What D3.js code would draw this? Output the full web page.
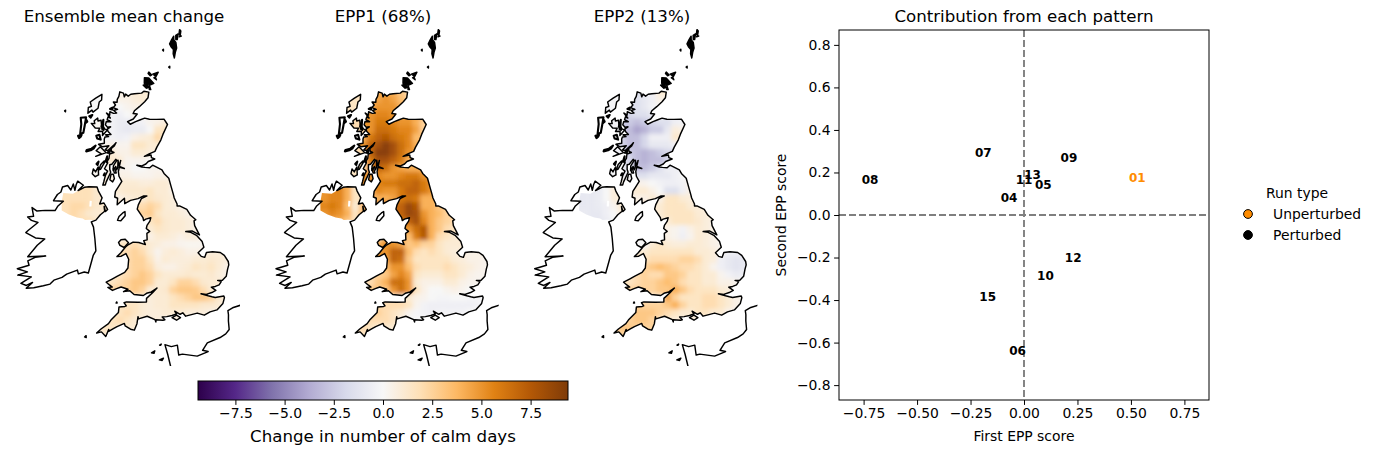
<!DOCTYPE html>
<html><head><meta charset="utf-8">
<style>html,body{margin:0;padding:0;background:#fff}text{font-family:"DejaVu Sans",sans-serif;fill:#000}</style>
<script src="https://cdn.jsdelivr.net/npm/d3@7"></script></head>
<body><svg id="c" width="1376" height="454"></svg>
<script>
// ---------- text ----------
const mapTitles=["Ensemble mean change","EPP1 (68%)","EPP2 (13%)"];
const scatterTitle="Contribution from each pattern";
const colorbarLabel="Change in number of calm days";
const xTicks=[-0.75,-0.5,-0.25,0,0.25,0.5,0.75];
const yTicks=[-0.8,-0.6,-0.4,-0.2,0,0.2,0.4,0.6,0.8];
const cbTicks=[-7.5,-5,-2.5,0,2.5,5,7.5];
// ---------- scatter ----------
const runIds=["01","04","05","06","07","08","09","10","11","12","13","15"];
const firstScore=[0.53,-0.07,0.09,-0.03,-0.19,-0.72,0.21,0.10,0.0,0.23,0.04,-0.17];
const secondScore=[0.175,0.08,0.145,-0.64,0.295,0.165,0.27,-0.285,0.165,-0.20,0.19,-0.385];
const runType=["Unperturbed","Perturbed","Perturbed","Perturbed","Perturbed","Perturbed","Perturbed","Perturbed","Perturbed","Perturbed","Perturbed","Perturbed"];
const legendTypes=["Unperturbed","Perturbed"];
const legendColors=["#ff8c00","#000000"];
// ---------- colour map (PuOr reversed) ----------
const cmapStops=["#2d004b","#542788","#8073ac","#b2abd2","#d8daeb","#f7f7f7","#fee0b6","#fdb863","#e08214","#b35806","#7f3b08"];
const cmapLimit=9.4;
// ---------- gridded change values, 30 km cells; one row per northing, north first ----------
const gbRowStart=[7,7,6,6,6,6,5,5,5,5,5,6,7,6,6,10,10,10,11,11,7,8,8,8,6,5,8,10,8,7,6,4,4];
const niRowStart=[0,0,0,2];
const ensembleGB=[
[.5,.8,1,1,1],[.5,.5,.8,1,.8],[0,0,.3,.5,.5],[-.3,-.5,0,.3],
[-.3,-.8,-.8,-.5,-.3,.3,.5,.8],[-.3,-.8,-1,-.8,-.8,0,1.5,1.5],[0,-.3,-.5,-.3,.5,.8,1,2.2,1],[.3,.5,.3,.3,1.5,1.5,1,1],
[1,1,.5,.5,1,1,.8],[.5,1.2,1,.3,.3,.3,0],[0,.5,.3,.3,0,0,.3,.3],[.5,.5,.5,.3,.3,.3,.5,.5],
[1,1,1,.8,.8,1,1,.5],[1,1,1.2,1.2,1.2,1.5,1,1,.5],[.5,.5,.8,1,1,1.5,1.2,1,.8],
[2,2.5,2,1,.8,.5],[2.5,2.8,1.5,1,1,.8,.5],[1.2,1.5,2,1.2,1,1,.8,.5],[1,1.5,1.2,1,1,.8,.5],[.5,1,1,.8,.5,.8,.8,.3],
[1.5,1.5,2,1.5,1,.8,.5,.5,.3,.2,.2,.3],[2,2.5,2,1,.3,.8,1,.8,.5,.5,.5,.8,.8],[2,2.5,2.5,1.5,.5,1,.8,.8,.8,1,1,1.2,1,.8],
[2,2.5,2.5,2,.8,.5,.5,.8,1,1.5,1.2,1.5,1,.5],[1,1.5,2,2.5,3,2.5,1.5,1,1,1,1.2,1,1,1.2,.8,.5],
[1,1.5,2,2.5,3,3,2.5,1,1,1.5,2.5,2.5,2,1.2,1,1,.5],[2.5,3,2.5,1,1,1.2,2.5,3,3,2.8,2,1,.8],[1,.8,1,1,1.5,2,2.5,3,3,2.5,1.2,.8],
[1.5,1.5,1,.8,1,1,1.5,1.5,1.5,1.5,1.2,1.2,1,.5],[1.5,2,1.5,1,.8,.8,1,1,1,.8,.8,.8,.5],[1.5,2,1.5,1,.8,.8,.8,.5,.5,.5],[1,1.5,1.5,1],[1,1,.5]];
const ensembleNI=[[1.8,1.8,1.8,1.8,1.2],[1.8,2.2,2.2,1.8,1.2,1.2],[1.8,2.2,1.8,1.2,1,1],[1.8,1.8,1.2]];
const epp1GB=[
[4,4.5,4,3,2],[4.5,5,4.5,3.5,2.5],[4,5,5,5,4],[5,5.5,5.5,5,4.5],
[5,6,6,5.5,5,5,4,2.5],[5,6.5,6.5,6,5.5,5.5,4.5,2.5],[4,6,7,7.5,6.5,6,5.5,3.5],[5,7,8,9,8,6.5,5.5,4],
[4,7,9,9,8,6.5,5],[3,6,8,8,7,6,4],[2,5,7,6.5,5,4.5,4,4],[5,5.5,5,5,5.5,6,6,5],
[5.5,6,6,6.5,6.5,7,6,5],[4,5.5,5,5,6,7,7,6,5],[3,4,4,4.5,6,6.5,6,4,4],
[7,8.5,7.5,4,4,3],[7,8.5,8,5,4,3.5,2.5],[6,7,8,5.5,4,3,2.5,2],[5,6.5,7.5,4,3,2,1.5],[3.5,6,7.5,4,2,1.5,1,1],
[4,5,5,4.5,3,3.5,2.5,2.5,1.5,1,1,1],[5,7,7,3.5,2,1.5,2,1.5,1,.8,.8,.5,.5],[4.5,7,6.5,3,1.5,1.5,1.5,1.5,1.5,1,.8,.5,.5,.3],
[3.5,5,5,3.5,2,1.5,1.5,1.5,2,1.5,1,.8,.5,.3],[2,2.5,3,4.5,5.5,4.5,1.5,1,1,1,1.5,1.5,1,.5,.3,.3],
[1.5,2,3,4,6.5,6.5,5,1,.5,.5,.5,1,1,.5,.3,.3,0],[3,5,6.5,5,1.5,.5,0,0,.3,.5,.3,0,-.1],[1.5,1,.5,.3,0,-.2,-.2,0,0,-.2,-.2,-.1],
[2,2,2,1.5,.3,-.3,-.5,-.5,-.5,-.5,-.5,-.5,-.3,-.1],[2.5,2,1.5,1,.3,-.2,-.3,-.5,-.3,-.3,-.3,-.3,0],[2,2,2,1.5,.5,0,0,0,0,0],[1.5,2,1.5,1],[1.5,1.5,1]];
const epp1NI=[[5,5.5,5.5,4,1.5],[5.5,6,5.5,3.5,1,3.5],[5,5.5,5,4,1.5,3.5],[4,3,1.5]];
const epp2GB=[
[-1.5,-1,-.3,1,1],[-1.5,-1,-.5,.5,.5],[-1.5,-1.5,-1,-.3,0],[-2,-1.5,-1.5,-1,-.5],
[-2.5,-3,-2.5,-2,-1.5,-1.5,-.5,-.3],[-3,-4,-3.5,-2.5,-2.5,-1,.8,.5],[-2,-3,-3,-2,-.5,-.5,-.5,1.2],[-2,-3,-3,-2,-1,-1,-1,-.3],
[-1.5,-2.5,-3,-3.5,-3,-2.5,-2],[-1,-2,-3,-3.5,-3,-3,-2],[-.5,-1.5,-3,-3,-2.5,-1.5,-.5,-.5],[-.5,-1.5,-1.5,-1,-1,-1,-.5,0],
[.5,.3,0,-.3,-.5,-.5,-.3,.5],[.8,1,1,.5,0,-1.5,-1.5,-.5,.5],[.3,.5,.5,1,.5,1.5,1.5,1,.8],
[1,1.5,1.5,1.5,1,.8],[1,1.5,1.5,1.5,1.5,1,.8],[.8,1,1.5,1.5,1.5,1.2,.8,.5],[.5,.3,-.3,.5,1,.8,.5],[.5,.3,-.5,.3,1,.8,.5,.3],
[0,0,1,1.5,1,.8,.8,1,1,.8,.5,.3],[1,1.5,1.5,1.5,1.5,1.5,1.5,1,1,.8,.3,-.5,-.5],[1.5,2,2,2,2,2.5,2.5,2,1,.8,-.5,-1,-1.2,-1],
[2.5,3,3.5,3,2.5,2,2,1.5,1,.3,-.5,-1,-1.3,-1],[1.5,2,2.5,2,2,3,3,2.5,1.5,1.5,1,1,.3,-.3,-.8,-.5],
[1.5,1.5,2,2.5,2.5,3,3.5,3,2,1.5,1.5,1,1,.5,.5,.3,0],[2.5,2.5,3,3,4,3,2,1.5,1.5,1.5,1,.8,.3],[1,4.5,2.5,1.5,1.5,1.5,2,2,1.5,1,.5,.3],
[2.5,2.5,2.5,3,4,2.5,1.5,1.5,2,2,1.5,1,.5,.3],[3,3,3,2.5,2,1.5,1,1,1.5,1.5,1,1,.3],[2.5,3,3,2.5,1.5,1,.8,.8,.8,.5],[2.5,3,3,2.5],[2.5,2.5,2]];
const epp2NI=[[-1,-1,-.8,0,.8],[-1,-1,-.8,-.5,.3,1],[-.8,-1,-1,-.5,0,.8],[-1,-.8,0]];
// single change value per western island, one per panel
const lewisValues=[0,1.5,-.2];
const skyeValues=[.2,2,-.3];
const mullValues=[.2,2,-.5];
const islayValues=[.2,1.5,-.2];
const juraValues=[.3,2,-.2];
// ---------- coastlines, lon/lat ----------
const coastGB=[[-3.03,58.64],[-3.08,58.44],[-3.3,58.3],[-3.65,58.12],[-3.97,57.97],[-4.05,57.87],[-3.78,57.86],[-4.03,57.68],[-4.4,57.58],[-4.22,57.49],[-3.87,57.59],[-3.6,57.65],[-3.28,57.72],[-2.96,57.68],[-2.5,57.68],[-2.0,57.69],[-1.77,57.5],[-2.07,57.15],[-2.2,56.96],[-2.46,56.7],[-2.58,56.55],[-2.95,56.46],[-3.25,56.37],[-2.83,56.42],[-2.8,56.33],[-2.59,56.28],[-3.0,56.19],[-3.15,56.1],[-3.4,56.03],[-3.72,56.05],[-3.4,55.99],[-3.2,55.98],[-2.9,55.97],[-2.72,56.06],[-2.5,56.0],[-2.13,55.9],[-2.0,55.77],[-1.7,55.6],[-1.57,55.33],[-1.42,55.02],[-1.37,54.9],[-1.2,54.69],[-1.2,54.62],[-1.05,54.62],[-0.61,54.49],[-0.39,54.28],[-0.08,54.12],[-0.19,54.08],[-0.16,53.91],[0.11,53.58],[-0.33,53.73],[-0.7,53.71],[-0.4,53.68],[-0.07,53.57],[0.26,53.34],[0.35,53.14],[0.0,52.95],[0.18,52.82],[0.38,52.78],[0.49,52.95],[0.85,52.97],[1.3,52.93],[1.53,52.82],[1.74,52.6],[1.76,52.48],[1.68,52.33],[1.58,52.08],[1.35,51.95],[1.08,51.95],[1.28,51.9],[1.15,51.79],[0.93,51.74],[0.7,51.72],[0.95,51.6],[0.72,51.53],[0.4,51.47],[0.1,51.5],[0.5,51.42],[0.72,51.38],[0.9,51.35],[1.39,51.39],[1.42,51.33],[1.32,51.13],[0.97,50.91],[0.58,50.85],[0.25,50.74],[-0.14,50.82],[-0.79,50.72],[-0.95,50.84],[-1.1,50.79],[-1.4,50.9],[-1.3,50.8],[-1.55,50.75],[-1.85,50.71],[-2.1,50.7],[-1.95,50.6],[-2.06,50.58],[-2.45,50.6],[-2.45,50.52],[-2.5,50.6],[-2.94,50.72],[-3.42,50.62],[-3.45,50.7],[-3.5,50.45],[-3.64,50.22],[-3.85,50.25],[-4.15,50.36],[-4.2,50.45],[-4.6,50.33],[-4.8,50.25],[-5.05,50.15],[-5.05,50.22],[-5.2,49.96],[-5.45,50.12],[-5.71,50.07],[-5.48,50.22],[-5.08,50.42],[-4.95,50.55],[-4.55,50.83],[-4.53,51.02],[-4.2,51.05],[-4.12,51.07],[-4.25,51.18],[-4.12,51.21],[-3.47,51.21],[-2.99,51.22],[-2.99,51.35],[-2.65,51.55],[-2.4,51.72],[-2.72,51.58],[-2.99,51.53],[-3.17,51.45],[-3.7,51.48],[-3.95,51.61],[-4.3,51.57],[-4.05,51.66],[-4.45,51.73],[-4.7,51.67],[-4.93,51.6],[-5.2,51.7],[-4.95,51.72],[-5.1,51.78],[-5.31,51.88],[-4.98,52.0],[-4.68,52.11],[-4.27,52.25],[-4.09,52.41],[-4.06,52.72],[-4.23,52.92],[-4.5,52.82],[-4.75,52.8],[-4.53,52.94],[-4.28,53.14],[-4.12,53.23],[-3.83,53.33],[-3.49,53.32],[-3.1,53.25],[-3.2,53.39],[-3.0,53.42],[-3.02,53.65],[-2.85,53.72],[-3.06,53.82],[-3.02,53.93],[-2.85,54.08],[-2.8,54.2],[-3.1,54.15],[-3.23,54.1],[-3.27,54.2],[-3.63,54.5],[-3.57,54.65],[-3.39,54.87],[-3.05,54.97],[-3.25,54.97],[-3.6,54.87],[-4.05,54.8],[-4.4,54.68],[-4.43,54.87],[-4.86,54.63],[-4.85,54.86],[-5.03,54.9],[-5.0,55.1],[-4.86,55.24],[-4.63,55.46],[-4.82,55.64],[-4.87,55.8],[-4.82,55.96],[-4.5,55.92],[-4.82,55.99],[-4.75,56.2],[-4.85,56.0],[-4.92,56.2],[-4.92,55.95],[-4.98,55.86],[-5.05,55.98],[-5.2,55.83],[-5.2,56.0],[-5.0,56.2],[-5.07,56.23],[-5.3,56.05],[-5.43,56.03],[-5.42,55.87],[-5.35,55.77],[-5.47,55.6],[-5.6,55.42],[-5.65,55.31],[-5.8,55.3],[-5.75,55.42],[-5.67,55.65],[-5.55,55.8],[-5.75,55.88],[-5.57,56.09],[-5.6,56.15],[-5.5,56.25],[-5.48,56.41],[-5.2,56.47],[-5.35,56.5],[-5.4,56.6],[-5.2,56.7],[-5.1,56.82],[-5.25,56.72],[-5.6,56.53],[-5.78,56.54],[-5.55,56.7],[-5.95,56.65],[-6.22,56.73],[-5.85,56.78],[-5.87,56.93],[-5.83,57.0],[-5.6,57.02],[-5.8,57.08],[-5.45,57.1],[-5.65,57.2],[-5.71,57.28],[-5.5,57.37],[-5.7,57.35],[-5.85,57.43],[-5.8,57.55],[-5.5,57.55],[-5.75,57.62],[-5.7,57.72],[-5.55,57.68],[-5.82,57.85],[-5.6,57.78],[-5.6,57.9],[-5.35,57.85],[-5.15,57.87],[-5.35,57.95],[-5.1,58.0],[-5.4,58.05],[-5.25,58.15],[-5.4,58.25],[-5.15,58.25],[-5.15,58.35],[-5.05,58.46],[-5.0,58.62],[-4.75,58.58],[-4.68,58.45],[-4.6,58.55],[-4.42,58.48],[-4.25,58.55],[-4.0,58.57],[-3.52,58.6],[-3.37,58.67]];
const coastIreland=[[-7.37,55.38],[-7.0,55.25],[-7.3,55.05],[-6.93,55.18],[-6.65,55.21],[-6.15,55.22],[-6.05,55.08],[-5.8,54.85],[-5.93,54.63],[-5.67,54.67],[-5.43,54.45],[-5.55,54.37],[-5.65,54.55],[-5.6,54.38],[-5.85,54.25],[-6.1,54.05],[-6.37,53.98],[-6.22,53.8],[-6.1,53.4],[-6.0,52.97],[-6.14,52.8],[-6.36,52.17],[-6.6,52.2],[-6.93,52.12],[-7.0,52.25],[-7.6,52.08],[-7.85,51.95],[-8.3,51.83],[-8.5,51.68],[-8.87,51.6],[-9.4,51.5],[-9.82,51.45],[-9.5,51.68],[-9.83,51.55],[-10.15,51.6],[-9.6,51.87],[-10.38,51.88],[-9.85,52.03],[-10.45,52.1],[-9.8,52.27],[-9.9,52.42],[-9.5,52.57],[-8.9,52.65],[-9.93,52.56],[-9.45,53.0],[-9.05,53.25],[-9.6,53.25],[-10.2,53.4],[-10.05,53.5],[-9.85,53.62],[-9.55,53.8],[-9.95,53.85],[-10.2,53.95],[-9.85,54.0],[-10.0,54.3],[-9.7,54.2],[-9.2,54.25],[-8.6,54.28],[-8.45,54.45],[-8.15,54.63],[-8.75,54.62],[-8.55,54.85],[-8.35,54.95],[-8.28,55.13],[-7.97,55.2],[-7.75,55.05],[-7.63,55.27],[-7.5,55.05],[-7.45,55.25]];
const niLand=[[-7.3,55.05],[-6.93,55.18],[-6.65,55.21],[-6.15,55.22],[-6.05,55.08],[-5.8,54.85],[-5.93,54.63],[-5.67,54.67],[-5.43,54.45],[-5.55,54.37],[-5.85,54.25],[-6.1,54.05],[-6.5,54.05],[-6.75,54.03],[-6.9,54.08],[-7.25,54.1],[-7.75,54.18],[-8.2,54.3],[-8.25,54.6],[-8.2,54.92],[-7.6,54.92],[-7.4,55.0]];
const loughNeagh=[[-6.55,54.72],[-6.42,54.72],[-6.42,54.52],[-6.55,54.52]];
const skye=[[-5.7,57.25],[-6.0,57.05],[-6.0,57.2],[-6.3,57.18],[-6.2,57.3],[-6.5,57.3],[-6.78,57.45],[-6.55,57.45],[-6.6,57.55],[-6.38,57.65],[-6.35,57.55],[-6.15,57.58],[-6.08,57.35],[-5.85,57.28]];
const mull=[[-5.7,56.45],[-6.35,56.3],[-6.0,56.4],[-6.35,56.5],[-6.1,56.65],[-5.85,56.52]];
const islay=[[-6.1,55.65],[-6.3,55.58],[-6.5,55.68],[-6.45,55.85],[-6.3,55.75],[-6.15,55.93]];
const jura=[[-5.72,56.15],[-6.0,55.85],[-6.1,55.83],[-6.0,56.02],[-5.8,56.15]];
const arran=[[-5.1,55.55],[-5.2,55.43],[-5.38,55.5],[-5.32,55.7],[-5.18,55.7]];
const bute=[[-5.0,55.75],[-5.12,55.75],[-5.2,55.9],[-5.1,55.92]];
const lewis=[[-6.2,58.5],[-6.2,58.3],[-6.35,58.22],[-6.4,58.0],[-6.72,57.85],[-6.8,57.92],[-7.05,57.8],[-7.05,58.0],[-6.85,58.05],[-6.95,58.2],[-6.6,58.35]];
const anglesey=[[-4.1,53.3],[-4.35,53.13],[-4.6,53.2],[-4.69,53.3],[-4.55,53.4],[-4.3,53.42]];
const wight=[[-1.08,50.67],[-1.3,50.58],[-1.55,50.67],[-1.3,50.76]];
const man=[[-4.37,54.4],[-4.35,54.25],[-4.6,54.07],[-4.8,54.08],[-4.72,54.22],[-4.5,54.35]];
const lundy=[[-4.67,51.2],[-4.7,51.16],[-4.64,51.16]];
const scilly=[[-6.28,49.96],[-6.36,49.91],[-6.27,49.89]];
const stKilda=[[-8.54,57.84],[-8.6,57.81],[-8.54,57.78]];
const fairIsle=[[-1.6,59.56],[-1.67,59.53],[-1.6,59.5]];
const foula=[[-2.04,60.16],[-2.1,60.13],[-2.04,60.1]];
const jersey=[[-2.03,49.24],[-2.25,49.18],[-2.1,49.16]];
const guernsey=[[-2.5,49.5],[-2.68,49.43],[-2.54,49.41]];
const alderney=[[-2.15,49.74],[-2.24,49.7],[-2.18,49.7]];
// small, dense west-coast islands drawn with a heavier outline
const uist=[[-7.15,57.65],[-7.2,57.35],[-7.25,57.1],[-7.45,57.05],[-7.43,57.4],[-7.5,57.62]];
const barra=[[-7.35,57.02],[-7.58,56.98],[-7.5,56.9],[-7.4,56.95]];
const coll=[[-6.4,56.68],[-6.65,56.56],[-6.95,56.5],[-6.98,56.45],[-6.7,56.5],[-6.5,56.58]];
const rum=[[-6.2,57.07],[-6.4,57.03],[-6.33,56.93],[-6.1,56.9]];
const raasay=[[-6.0,57.6],[-6.1,57.35],[-6.0,57.33]];
const colonsay=[[-6.15,56.12],[-6.27,56.03],[-6.2,56.0]];
const summer=[[-5.45,58.05],[-5.6,58.0],[-5.45,57.98]];
const luing=[[-5.62,56.32],[-5.7,56.15],[-5.62,56.12]];
const lismore=[[-5.45,56.55],[-5.62,56.45],[-5.5,56.45]];
const scalpay=[[-5.95,57.33],[-6.05,57.28],[-5.95,57.25]];
const gigha=[[-5.72,55.72],[-5.78,55.65],[-5.72,55.65]];
const flodda=[[-7.05,57.5],[-7.15,57.45],[-7.1,57.55]];
const harrisIsles=[[-6.75,57.75],[-6.95,57.7],[-6.85,57.65]];
const orkneyMain=[[-3.35,59.15],[-3.05,59.14],[-2.7,58.95],[-3.0,58.88],[-3.35,58.95]];
const hoy=[[-3.2,58.92],[-3.42,58.88],[-3.2,58.78],[-3.0,58.8]];
const ronaldsay=[[-2.98,58.85],[-2.9,58.73],[-3.0,58.73]];
const westray=[[-3.05,59.35],[-2.85,59.25],[-2.95,59.22],[-3.1,59.3]];
const sanday=[[-2.78,59.28],[-2.4,59.35],[-2.55,59.2]];
const stronsay=[[-2.7,59.15],[-2.52,59.08],[-2.6,59.18]];
const shetlandMain=[[-1.27,59.85],[-1.2,60.05],[-1.1,60.2],[-1.15,60.4],[-1.3,60.5],[-1.3,60.62],[-1.45,60.5],[-1.6,60.35],[-1.5,60.25],[-1.33,60.15],[-1.35,60.0]];
const yell=[[-0.98,60.7],[-1.05,60.5],[-1.15,60.5],[-1.15,60.65]];
const unst=[[-0.78,60.8],[-0.82,60.68],[-0.92,60.68],[-0.87,60.85]];
const fetlar=[[-0.75,60.62],[-0.9,60.6],[-0.85,60.64]];
const france=[[2.4,51.05],[1.85,50.96],[1.58,50.87],[1.6,50.72],[1.58,50.5],[1.6,50.2],[1.4,50.05],[1.08,49.93],[0.37,49.76],[0.1,49.5],[0.4,49.45],[-0.2,49.3],[-1.0,49.38],[-1.2,49.35],[-1.27,49.7],[-1.6,49.65],[-1.95,49.72],[-1.8,49.38],[-1.6,48.83]];

const griddedIslands=[arran,bute,anglesey,wight];
const westernIslands=[lewis,skye,mull,islay,jura];
const westernValues=[lewisValues,skyeValues,mullValues,islayValues,juraValues];
const outlineIslands=[man,lundy,scilly,stKilda,fairIsle,foula,jersey,guernsey,alderney];
const heavyIslands=[uist,barra,coll,rum,raasay,colonsay,summer,luing,lismore,scalpay,gigha,flodda,harrisIsles];
const solidIslands=[orkneyMain,hoy,ronaldsay,westray,sanday,stronsay,shetlandMain,yell,unst,fetlar];

// ---------- draw ----------
const svg=d3.select("#c");
const defs=svg.append("defs");
const color=d3.scaleLinear().domain(d3.range(11).map(i=>-cmapLimit+i*cmapLimit/5)).range(cmapStops).clamp(true);
defs.append("filter").attr("id","soft").attr("x","-5%").attr("y","-5%").attr("width","110%").attr("height","110%")
  .append("feGaussianBlur").attr("stdDeviation",2.0);

const panelLeft=[0,258.7,517.4];
const gbData=[ensembleGB,epp1GB,epp2GB], niData=[ensembleNI,epp1NI,epp2NI];
mapTitles.forEach((title,p)=>{
  const dx=panelLeft[p];
  const proj=d3.geoTransverseMercator().rotate([2,0]).center([0,49]).scale(1621).translate([164+dx,365]);
  const line=d3.line().curve(d3.curveLinearClosed);
  const path=pts=>line(pts.map(proj));
  const open=pts=>d3.line()(pts.map(proj));
  const colBand=d3.scaleBand().domain(d3.range(22)).range([62.2+dx,230.2+dx]);
  const rowBand=d3.scaleBand().domain(d3.range(33)).range([87.9,339.4]);
  defs.append("clipPath").attr("id","gb"+p).selectAll("path").data([coastGB,...griddedIslands]).join("path").attr("d",path);
  defs.append("clipPath").attr("id","ni"+p).append("path").attr("clip-rule","evenodd").attr("d",path(niLand)+path(loughNeagh));
  defs.append("clipPath").attr("id","pane"+p).append("rect").attr("x",dx).attr("y",25).attr("width",240).attr("height",341);
  const g=svg.append("g");
  const drawCells=(rows,starts,rowOffset,clip)=>{
    const inner=g.append("g").attr("clip-path",`url(#${clip}${p})`).append("g").attr("filter","url(#soft)");
    const bw=colBand.bandwidth(), bh=rowBand.bandwidth();
    rows.forEach((vals,i)=>{
      const r=i+rowOffset, s=starts[i], n=vals.length;
      const edge=(i===0?2:0), tail=(i===rows.length-1?2:0);
      // the first and last value of a row are carried past the coast so the soft edge does not fade to white
      inner.selectAll(null).data([vals[0],vals[0],vals[0],...vals,vals[n-1],vals[n-1],vals[n-1]]).join("rect")
        .attr("x",(d,j)=>colBand(0)+(s+j-3)*bw)
        .attr("y",rowBand(r)-edge*bh).attr("width",bw+.6).attr("height",(1+edge+tail)*bh+.6)
        .attr("fill",d=>color(d));
    });
  };
  drawCells(gbData[p],gbRowStart,0,"gb");
  drawCells(niData[p],niRowStart,14,"ni");
  g.selectAll("path.w").data(westernIslands).join("path").attr("class","w").attr("d",path).attr("fill",(d,i)=>color(westernValues[i][p]));
  const outl=g.append("g").attr("fill","none").attr("stroke","#000").attr("stroke-width",1.45).attr("stroke-linejoin","round");
  outl.selectAll("path.c").data([coastGB,coastIreland,...griddedIslands,...westernIslands,...outlineIslands]).join("path").attr("class","c").attr("d",path);
  outl.selectAll("path.h").data(heavyIslands).join("path").attr("class","h").attr("stroke-width",2.1).attr("d",path);
  outl.selectAll("path.s").data(solidIslands).join("path").attr("class","s").attr("fill","#000").attr("d",path);
  outl.append("path").attr("d",open(france)).attr("clip-path",`url(#pane${p})`);
  svg.append("text").attr("x",[124,383,642][p]).attr("y",22).attr("text-anchor","middle").attr("font-size",16.65).text(title);
});

// colour bar
const cbX=d3.scaleLinear().domain([-cmapLimit,cmapLimit]).range([198,568]);
const grad=defs.append("linearGradient").attr("id","cb");
color.domain().forEach((v,i)=>grad.append("stop").attr("offset",i/10).attr("stop-color",cmapStops[i]));
svg.append("rect").attr("x",198).attr("y",381).attr("width",370).attr("height",19).attr("fill","url(#cb)").attr("stroke","#000").attr("stroke-width",1);
const cbAxis=svg.append("g").attr("transform","translate(0,400)").call(d3.axisBottom(cbX).tickValues(cbTicks).tickFormat(d3.format(".1f")).tickSize(4.9).tickPadding(3.5));
cbAxis.select(".domain").remove();
cbAxis.selectAll("text").attr("font-size",13.9).attr("font-family","DejaVu Sans");
svg.append("text").attr("x",383).attr("y",442).attr("text-anchor","middle").attr("font-size",16.65).text(colorbarLabel);

// scatter
const xS=d3.scaleLinear().domain([-0.865,0.865]).range([839,1209]);
const yS=d3.scaleLinear().domain([-0.87,0.87]).range([400,30]);
const ax=svg.append("g").attr("transform","translate(0,400)").call(d3.axisBottom(xS).tickValues(xTicks).tickFormat(d3.format(".2f")).tickSize(4.9).tickPadding(3.5));
const ay=svg.append("g").attr("transform","translate(839,0)").call(d3.axisLeft(yS).tickValues(yTicks).tickFormat(d3.format(".1f")).tickSize(4.9).tickPadding(3.5));
[ax,ay].forEach(a=>{a.select(".domain").remove();a.selectAll("text").attr("font-size",13.9).attr("font-family","DejaVu Sans");});
svg.append("line").attr("x1",xS(0)).attr("x2",xS(0)).attr("y1",30).attr("y2",400).attr("stroke","#7f7f7f").attr("stroke-width",1.9).attr("stroke-dasharray","7,3");
svg.append("line").attr("x1",839).attr("x2",1209).attr("y1",yS(0)).attr("y2",yS(0)).attr("stroke","#7f7f7f").attr("stroke-width",1.9).attr("stroke-dasharray","7,3");
svg.append("rect").attr("x",839).attr("y",30).attr("width",370).attr("height",370).attr("fill","none").attr("stroke","#000").attr("stroke-width",1);
const runColor=d3.scaleOrdinal().domain(legendTypes).range(legendColors);
svg.append("g").selectAll("text").data(runIds).join("text")
  .attr("x",(d,i)=>xS(firstScore[i])).attr("y",(d,i)=>yS(secondScore[i])+4.4)
  .attr("text-anchor","middle").attr("font-size",12).attr("font-weight","bold")
  .style("fill",(d,i)=>runColor(runType[i])).text(d=>d);
svg.append("text").attr("x",1024).attr("y",22).attr("text-anchor","middle").attr("font-size",16.65).text(scatterTitle);
svg.append("text").attr("x",1024).attr("y",441).attr("text-anchor","middle").attr("font-size",13.9).text("First EPP score");
svg.append("text").attr("transform","translate(786,215) rotate(-90)").attr("text-anchor","middle").attr("font-size",13.9).text("Second EPP score");

// legend
svg.append("text").attr("x",1266).attr("y",198).attr("font-size",13.9).text("Run type");
legendTypes.forEach((t,i)=>{
  const y=214+i*21;
  svg.append("circle").attr("cx",1248).attr("cy",y).attr("r",4.4).attr("fill",legendColors[i]).attr("stroke","#000").attr("stroke-width",1);
  svg.append("text").attr("x",1273).attr("y",y+4.8).attr("font-size",13.9).text(t);
});
</script></body></html>
